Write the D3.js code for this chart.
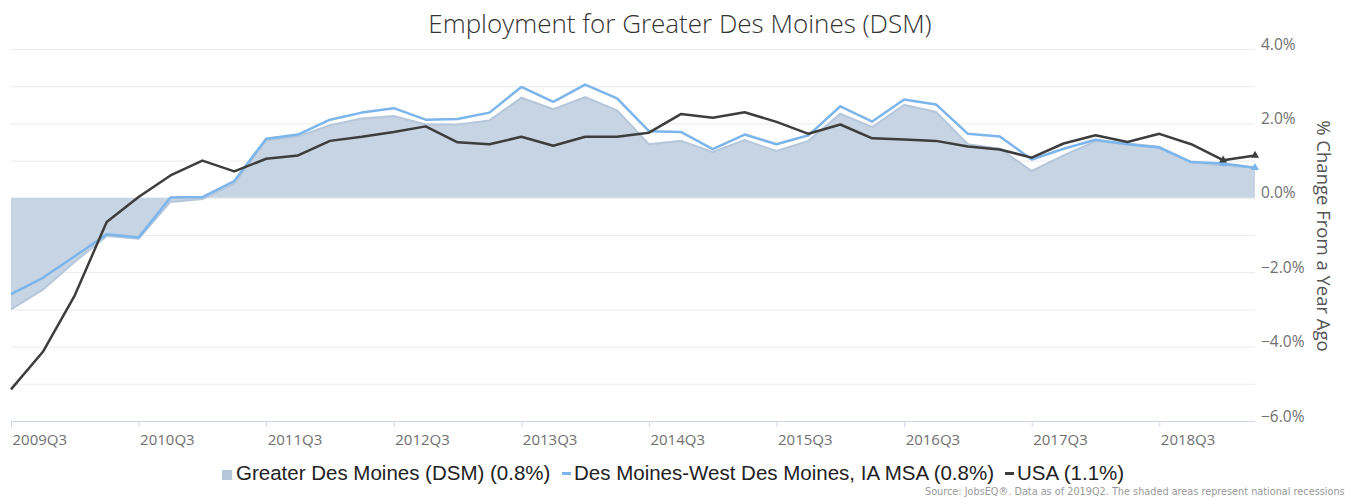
<!DOCTYPE html>
<html>
<head>
<meta charset="utf-8">
<script src="https://cdnjs.cloudflare.com/ajax/libs/d3/7.8.5/d3.min.js"></script>
<style>
  body { margin: 0; background: #fff; }
  svg { display: block; }
</style>
</head>
<body>
<div id="chart"></div>
<script>
// quarters on the category axis
var quarters = ["2009Q3","2009Q4","2010Q1","2010Q2","2010Q3","2010Q4","2011Q1","2011Q2",
  "2011Q3","2011Q4","2012Q1","2012Q2","2012Q3","2012Q4","2013Q1","2013Q2",
  "2013Q3","2013Q4","2014Q1","2014Q2","2014Q3","2014Q4","2015Q1","2015Q2",
  "2015Q3","2015Q4","2016Q1","2016Q2","2016Q3","2016Q4","2017Q1","2017Q2",
  "2017Q3","2017Q4","2018Q1","2018Q2","2018Q3","2018Q4","2019Q1","2019Q2"];

var xLabels = ["2009Q3","2010Q3","2011Q3","2012Q3","2013Q3","2014Q3","2015Q3","2016Q3","2017Q3","2018Q3"];
var yTicks = [-6, -4, -2, 0, 2, 4];
var gridTicks = [-6, -5, -4, -3, -2, -1, 0, 1, 2, 3, 4];

// % change from a year ago
var dsm = [-3.0, -2.47, -1.72, -1.03, -1.1, -0.11, -0.03, 0.38,
  1.55, 1.65, 1.95, 2.13, 2.20, 1.97, 1.97, 2.08, 2.69, 2.38,
  2.71, 2.35, 1.44, 1.53, 1.23, 1.55, 1.26, 1.53, 2.26, 1.90,
  2.50, 2.31, 1.44, 1.32, 0.72, 1.14, 1.52, 1.46, 1.37, 0.96, 0.87, 0.81];
var msa = [-2.59, -2.15, -1.57, -0.98, -1.07, 0.01, 0.02, 0.45,
  1.59, 1.70, 2.10, 2.29, 2.41, 2.10, 2.12, 2.29, 2.98, 2.58,
  3.04, 2.67, 1.79, 1.77, 1.31, 1.70, 1.44, 1.68, 2.46, 2.05,
  2.64, 2.51, 1.72, 1.65, 1.03, 1.32, 1.56, 1.44, 1.35, 0.96, 0.92, 0.81];
var usa = [-5.15, -4.14, -2.62, -0.65, 0.02, 0.60, 1.0, 0.71,
  1.05, 1.14, 1.53, 1.64, 1.77, 1.92, 1.49, 1.44, 1.64, 1.40,
  1.64, 1.64, 1.75, 2.25, 2.15, 2.30, 2.04, 1.72, 1.97, 1.60,
  1.57, 1.53, 1.38, 1.30, 1.08, 1.46, 1.68, 1.50, 1.72, 1.44, 1.01, 1.14];

var legendNames = ["Greater Des Moines (DSM) (0.8%)", "Des Moines-West Des Moines, IA MSA (0.8%)", "USA (1.1%)"];

var width = 1345, height = 499;
var plot = {left: 11, right: 1255, top: 49, bottom: 421};

var svg = d3.select('#chart').append('svg')
  .attr('width', width)
  .attr('height', height);

var xScale = d3.scalePoint()
  .domain(quarters)
  .range([plot.left, plot.right]);

var yScale = d3.scaleLinear()
  .domain([-6, 4])
  .range([plot.bottom, plot.top]);

// gridlines
svg.append('g')
  .attr('transform', 'translate(' + plot.left + ',0)')
  .call(d3.axisLeft(yScale).tickValues(gridTicks).tickSize(-(plot.right - plot.left)).tickFormat(''))
  .call(function(g) {
    g.select('.domain').remove();
    g.selectAll('line').attr('stroke', '#ebebeb').attr('stroke-width', 1);
  });

// y axis labels on the right
svg.append('g')
  .attr('transform', 'translate(' + 1261 + ',0)')
  .call(d3.axisRight(yScale).tickValues(yTicks).tickSize(0).tickPadding(0)
    .tickFormat(function(d) { return d3.format('.1f')(d) + '%'; }))
  .call(function(g) {
    g.select('.domain').remove();
    g.selectAll('text')
      .attr('dy', 0)
      .attr('fill', '#707070')
      .style('font-family', '"Open Sans", sans-serif')
      .style('font-size', '15.5px');
  });

// area for DSM
var area = d3.area()
  .x(function(d, i) { return xScale(quarters[i]); })
  .y0(yScale(0))
  .y1(function(d) { return yScale(d); });

var line = d3.line()
  .x(function(d, i) { return xScale(quarters[i]); })
  .y(function(d) { return yScale(d); });

svg.append('path')
  .datum(dsm)
  .attr('d', area)
  .attr('fill', '#c6d4e3');

svg.append('path')
  .datum(dsm)
  .attr('d', line)
  .attr('fill', 'none')
  .attr('stroke', '#b6c7db')
  .attr('stroke-width', 2);

svg.append('path')
  .datum(msa)
  .attr('d', line)
  .attr('fill', 'none')
  .attr('stroke', '#7cb5ec')
  .attr('stroke-width', 2.5)
  .attr('stroke-linejoin', 'round');

svg.append('path')
  .datum(usa)
  .attr('d', line)
  .attr('fill', 'none')
  .attr('stroke', '#3d3d3d')
  .attr('stroke-width', 2.5)
  .attr('stroke-linejoin', 'round');

// markers on the last two points
[[msa, '#7cb5ec'], [usa, '#3d3d3d']].forEach(function(s) {
  var n = s[0].length;
  [n - 2, n - 1].forEach(function(i) {
    svg.append('path')
      .attr('d', d3.symbol().type(d3.symbolTriangle).size(28)())
      .attr('transform', 'translate(' + xScale(quarters[i]) + ',' + yScale(s[0][i]) + ')')
      .attr('fill', s[1]);
  });
});

// x axis
svg.append('g')
  .attr('transform', 'translate(0,' + plot.bottom + ')')
  .call(d3.axisBottom(xScale).tickValues(xLabels).tickSize(6).tickPadding(4))
  .call(function(g) {
    g.select('.domain').attr('stroke', '#ccd6eb').attr('d', 'M' + plot.left + ',0.5H' + plot.right);
    g.selectAll('line').attr('stroke', '#ccd6eb');
    g.selectAll('text')
      .attr('text-anchor', 'start')
      .attr('x', 1)
      .attr('dy', '0.9em')
      .attr('fill', '#707070')
      .style('font-family', '"Open Sans", sans-serif')
      .style('font-size', '15px');
  });

// title
svg.append('text')
  .attr('x', 680)
  .attr('y', 33)
  .attr('text-anchor', 'middle')
  .attr('fill', '#333')
  .style('font-family', '"Open Sans", sans-serif')
  .style('font-weight', 300)
  .style('font-size', '26px')
  .text('Employment for Greater Des Moines (DSM)');

// y axis title
svg.append('text')
  .attr('transform', 'translate(1317,236) rotate(90)')
  .attr('text-anchor', 'middle')
  .attr('fill', '#555')
  .style('font-family', '"Open Sans", sans-serif')
  .style('font-size', '18.5px')
  .text('% Change From a Year Ago');

// legend
var legend = svg.append('g').style('font-family', '"Liberation Sans", Arial, sans-serif');
var legendX = [236, 574, 1017];

legend.append('rect')
  .attr('x', 222).attr('y', 470).attr('width', 10).attr('height', 10)
  .attr('fill', '#b6c7db');
legend.append('rect')
  .attr('x', 562).attr('y', 472).attr('width', 9).attr('height', 3)
  .attr('fill', '#7cb5ec');
legend.append('rect')
  .attr('x', 1005).attr('y', 472).attr('width', 9).attr('height', 3)
  .attr('fill', '#3d3d3d');

legend.selectAll('text.item')
  .data(legendNames)
  .enter()
  .append('text')
  .attr('class', 'item')
  .attr('x', function(d, i) { return legendX[i]; })
  .attr('y', 480)
  .attr('fill', '#222')
  .style('font-size', '20.5px')
  .text(function(d) { return d; });

// source note
svg.append('text')
  .attr('x', 925)
  .attr('y', 495)
  .attr('fill', '#999')
  .style('font-family', '"DejaVu Sans Condensed", "DejaVu Sans", sans-serif')
  .style('font-size', '10.8px')
  .text('Source: JobsEQ\u00ae. Data as of 2019Q2. The shaded areas represent national recessions');
</script>
</body>
</html>
